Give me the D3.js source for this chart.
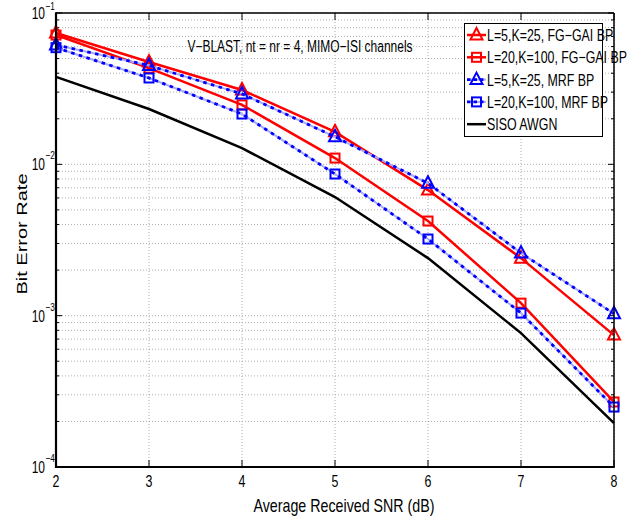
<!DOCTYPE html>
<html><head><meta charset="utf-8">
<script src="https://cdn.jsdelivr.net/npm/d3@7/dist/d3.min.js"></script>
<style>body{margin:0;background:#fff}svg{display:block}text{font-family:"Liberation Sans",Arial,sans-serif}</style>
</head><body><div id="c"></div>
<script>
const snr = [2,3,4,5,6,7,8];
const fgL5 = [0.0738,0.0474,0.0310,0.0164,0.00676,0.00240,0.000744];
const fgL20 = [0.0715,0.0432,0.0247,0.0110,0.00422,0.00121,0.000269];
const mrfL5 = [0.0615,0.0450,0.0292,0.0152,0.00750,0.00259,0.00103];
const mrfL20 = [0.0590,0.0372,0.0215,0.00863,0.00321,0.00104,0.000249];
const siso = [0.0378,0.0232,0.0128,0.00608,0.00240,0.000767,0.000195];
const seriesNames = ["L=5,K=25, FG\u2212GAI BP","L=20,K=100, FG\u2212GAI BP","L=5,K=25, MRF BP","L=20,K=100, MRF BP","SISO AWGN"];
const xTicks = [2,3,4,5,6,7,8];
const yMajor = [1e-4,1e-3,1e-2,1e-1];
const yMajorExp = ["\u22124","\u22123","\u22122","\u22121"];
const titleText = "V\u2212BLAST, nt = nr = 4, MIMO\u2212ISI channels";
const xLabel = "Average Received SNR (dB)";
const yLabel = "Bit Error Rate";

const W=636,H=518;
const L=56,R=614,T=13,B=467;
const SX=0.75;
const svg=d3.select("#c").append("svg").attr("width",W).attr("height",H);
const x=d3.scaleLinear().domain([2,8]).range([L,R]);
const y=d3.scaleLog().domain([1e-4,1e-1]).range([B,T]);

function txt(g,px,py,size,s,anchor,rot){
  return g.append("text")
    .attr("transform",`translate(${px},${py}) scale(${SX},1)`+(rot?` rotate(${rot})`:""))
    .attr("font-size",size).attr("text-anchor",anchor||"start").text(s);
}

const yMinor=[];
for(let e=-4;e<-1;e++){for(let m=2;m<=9;m++){yMinor.push(m*Math.pow(10,e));}}

const grid=svg.append("g");
yMajor.concat(yMinor).forEach(v=>{
  grid.append("line").attr("x1",L).attr("x2",R).attr("y1",y(v)).attr("y2",y(v))
   .attr("stroke","#9a9a9a").attr("stroke-width",0.8).attr("stroke-dasharray","1,2");
});
xTicks.forEach(v=>{
  grid.append("line").attr("x1",x(v)).attr("x2",x(v)).attr("y1",T).attr("y2",B)
   .attr("stroke","#9a9a9a").attr("stroke-width",0.8).attr("stroke-dasharray","1,2");
});

const tk=svg.append("g").attr("stroke","#000").attr("stroke-width",1);
xTicks.forEach(v=>{
  tk.append("line").attr("x1",x(v)).attr("x2",x(v)).attr("y1",B).attr("y2",B-7);
  tk.append("line").attr("x1",x(v)).attr("x2",x(v)).attr("y1",T).attr("y2",T+7);
});
yMajor.forEach(v=>{
  tk.append("line").attr("x1",L).attr("x2",L+6).attr("y1",y(v)).attr("y2",y(v));
  tk.append("line").attr("x1",R).attr("x2",R-6).attr("y1",y(v)).attr("y2",y(v));
});
yMinor.forEach(v=>{
  tk.append("line").attr("x1",L).attr("x2",L+3).attr("y1",y(v)).attr("y2",y(v));
  tk.append("line").attr("x1",R).attr("x2",R-3).attr("y1",y(v)).attr("y2",y(v));
});

const series=[
 {v:fgL5,c:"#ff0000",dash:false,m:"tri"},
 {v:fgL20,c:"#ff0000",dash:false,m:"sq"},
 {v:mrfL5,c:"#0000ff",dash:true,m:"tri"},
 {v:mrfL20,c:"#0000ff",dash:true,m:"sq"},
 {v:siso,c:"#000000",dash:false,m:null}
];
const line=d3.line().x((d,i)=>x(snr[i])).y(d=>y(d));
function marker(g,m,cx,cy,c){
  if(m==="tri"){
    g.append("path").attr("d",`M${cx},${cy-7}L${cx+6},${cy+4.5}L${cx-6},${cy+4.5}Z`)
     .attr("fill","none").attr("stroke",c).attr("stroke-width",2);
  } else if(m==="sq"){
    g.append("rect").attr("x",cx-4.5).attr("y",cy-4.5).attr("width",9).attr("height",9)
     .attr("fill","none").attr("stroke",c).attr("stroke-width",2);
  }
}
function drawLine(g,d,s){
  if(s.dash){
    g.append("path").attr("d",d).attr("fill","none").attr("stroke","#a8a8ff").attr("stroke-width",2);
    g.append("path").attr("d",d).attr("fill","none").attr("stroke",s.c).attr("stroke-width",2.8).attr("stroke-dasharray","3.5,4.5");
  } else {
    g.append("path").attr("d",d).attr("fill","none").attr("stroke",s.c).attr("stroke-width",2.5);
  }
}
const sg=svg.append("g");
series.forEach(s=>{
  drawLine(sg,line(s.v),s);
  if(s.m) s.v.forEach((d,i)=>marker(sg,s.m,x(snr[i]),y(d),s.c));
});

svg.append("line").attr("x1",L).attr("x2",R).attr("y1",T).attr("y2",T).attr("stroke","#000").attr("stroke-width",1.5);
svg.append("line").attr("x1",R).attr("x2",R).attr("y1",T).attr("y2",B).attr("stroke","#000").attr("stroke-width",1.5);
svg.append("line").attr("x1",L).attr("x2",L).attr("y1",T-0.75).attr("y2",B+1).attr("stroke","#000").attr("stroke-width",2.2);
svg.append("line").attr("x1",L).attr("x2",R+0.75).attr("y1",B).attr("y2",B).attr("stroke","#000").attr("stroke-width",2.2);

const tg=svg.append("g");
xTicks.forEach(v=>{ txt(tg,x(v),487,16.5,String(v),"middle"); });
yMajor.forEach((v,i)=>{
  txt(tg,45,y(v)+6,16,"10","end");
  txt(tg,45.5,Math.max(y(v)-5,9.5),11,yMajorExp[i],"start");
});

txt(tg,344,512,19,xLabel,"middle");
txt(tg,27,234,20,yLabel,"middle",-90);
txt(tg,300,52,16,titleText,"middle");

const lg=svg.append("g");
lg.append("rect").attr("x",464.5).attr("y",23.5).attr("width",138).attr("height",113)
  .attr("fill","#fff").attr("stroke","#000").attr("stroke-width",1);
seriesNames.forEach((n,i)=>{
  const s=series[i]; const base=41+i*22.3; const cy=base-6;
  if(s.dash){
    lg.append("line").attr("x1",467).attr("x2",486).attr("y1",cy).attr("y2",cy).attr("stroke","#a8a8ff").attr("stroke-width",2);
    lg.append("line").attr("x1",467).attr("x2",486).attr("y1",cy).attr("y2",cy).attr("stroke",s.c).attr("stroke-width",2.8).attr("stroke-dasharray","3.5,3");
  } else {
    lg.append("line").attr("x1",467).attr("x2",486).attr("y1",cy).attr("y2",cy).attr("stroke",s.c).attr("stroke-width",2.5);
  }
  if(s.m) marker(lg,s.m,476.5,cy,s.c);
  txt(lg,487,base,16.5,n,"start");
});
</script></body></html>
